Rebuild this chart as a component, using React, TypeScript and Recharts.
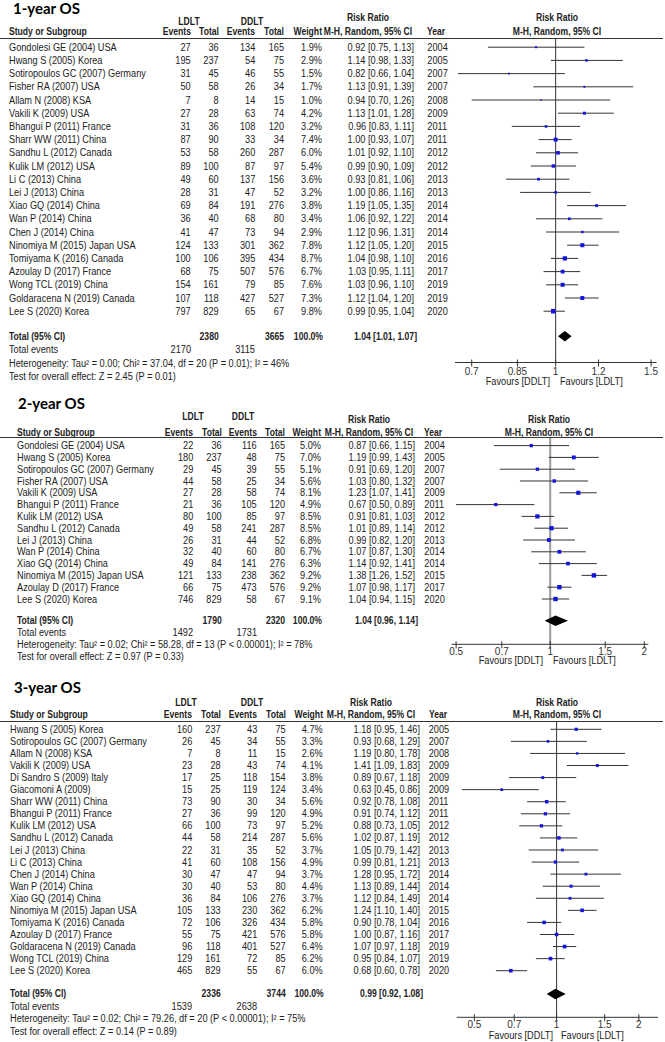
import { ScatterChart, Scatter, XAxis, YAxis, ErrorBar, ReferenceLine } from "recharts";

const FONT = '"Liberation Sans", Arial, sans-serif';

// ---- 1-year OS ----
const study1 = [
  "Gondolesi GE (2004) USA", "Hwang S (2005) Korea", "Sotiropoulos GC (2007) Germany", "Fisher RA (2007) USA",
  "Allam N (2008) KSA", "Vakili K (2009) USA", "Bhangui P (2011) France", "Sharr WW (2011) China",
  "Sandhu L (2012) Canada", "Kulik LM (2012) USA", "Li C (2013) China", "Lei J (2013) China",
  "Xiao GQ (2014) China", "Wan P (2014) China", "Chen J (2014) China", "Ninomiya M (2015) Japan USA",
  "Tomiyama K (2016) Canada", "Azoulay D (2017) France", "Wong TCL (2019) China", "Goldaracena N (2019) Canada",
  "Lee S (2020) Korea",
];
const ldltEv1 = [27, 195, 31, 50, 7, 27, 31, 87, 53, 89, 49, 28, 69, 36, 41, 124, 100, 68, 154, 107, 797];
const ldltN1 = [36, 237, 45, 58, 8, 28, 36, 90, 58, 100, 60, 31, 84, 40, 47, 133, 106, 75, 161, 118, 829];
const ddltEv1 = [134, 54, 46, 26, 14, 63, 108, 33, 260, 87, 137, 47, 191, 68, 73, 301, 395, 507, 79, 427, 65];
const ddltN1 = [165, 75, 55, 34, 15, 74, 120, 34, 287, 97, 156, 52, 276, 80, 94, 362, 434, 576, 85, 527, 67];
const weight1 = [1.9, 2.9, 1.5, 1.7, 1.0, 4.2, 3.2, 7.4, 6.0, 5.4, 3.6, 3.2, 3.8, 3.4, 2.9, 7.8, 8.7, 6.7, 7.6, 7.3, 9.8];
const rr1 = [0.92, 1.14, 0.82, 1.13, 0.94, 1.13, 0.96, 1.0, 1.01, 0.99, 0.93, 1.0, 1.19, 1.06, 1.12, 1.12, 1.04, 1.03, 1.03, 1.12, 0.99];
const lo1 = [0.75, 0.98, 0.66, 0.91, 0.7, 1.01, 0.83, 0.93, 0.92, 0.9, 0.81, 0.86, 1.05, 0.92, 0.96, 1.05, 0.98, 0.95, 0.96, 1.04, 0.95];
const hi1 = [1.13, 1.33, 1.04, 1.39, 1.26, 1.28, 1.11, 1.07, 1.1, 1.09, 1.06, 1.16, 1.35, 1.22, 1.31, 1.2, 1.1, 1.11, 1.1, 1.2, 1.04];
const year1 = [2004, 2005, 2007, 2007, 2008, 2009, 2011, 2011, 2012, 2012, 2013, 2013, 2014, 2014, 2014, 2015, 2016, 2017, 2019, 2019, 2020];
const totals1 = [2380, 3665];
const events1 = [2170, 3115];
const pooled1 = [1.04, 1.01, 1.07];
const het1 = "Heterogeneity: Tau² = 0.00; Chi² = 37.04, df = 20 (P = 0.01); I² = 46%";
const test1 = "Test for overall effect: Z = 2.45 (P = 0.01)";
const ticks1 = [0.7, 0.85, 1, 1.2, 1.5];

// ---- 2-year OS ----
const study2 = [
  "Gondolesi GE (2004) USA", "Hwang S (2005) Korea", "Sotiropoulos GC (2007) Germany", "Fisher RA (2007) USA",
  "Vakili K (2009) USA", "Bhangui P (2011) France", "Kulik LM (2012) USA", "Sandhu L (2012) Canada",
  "Lei J (2013) China", "Wan P (2014) China", "Xiao GQ (2014) China", "Ninomiya M (2015) Japan USA",
  "Azoulay D (2017) France", "Lee S (2020) Korea",
];
const ldltEv2 = [22, 180, 29, 44, 27, 21, 80, 49, 26, 32, 49, 121, 66, 746];
const ldltN2 = [36, 237, 45, 58, 28, 36, 100, 58, 31, 40, 84, 133, 75, 829];
const ddltEv2 = [116, 48, 39, 25, 58, 105, 85, 241, 44, 60, 141, 238, 473, 58];
const ddltN2 = [165, 75, 55, 34, 74, 120, 97, 287, 52, 80, 276, 362, 576, 67];
const weight2 = [5.0, 7.0, 5.1, 5.6, 8.1, 4.9, 8.5, 8.5, 6.8, 6.7, 6.3, 9.2, 9.2, 9.1];
const rr2 = [0.87, 1.19, 0.91, 1.03, 1.23, 0.67, 0.91, 1.01, 0.99, 1.07, 1.14, 1.38, 1.07, 1.04];
const lo2 = [0.66, 0.99, 0.69, 0.8, 1.07, 0.5, 0.81, 0.89, 0.82, 0.87, 0.92, 1.26, 0.98, 0.94];
const hi2 = [1.15, 1.43, 1.2, 1.32, 1.41, 0.89, 1.03, 1.14, 1.2, 1.3, 1.41, 1.52, 1.17, 1.15];
const year2 = [2004, 2005, 2007, 2007, 2009, 2011, 2012, 2012, 2013, 2014, 2014, 2015, 2017, 2020];
const totals2 = [1790, 2320];
const events2 = [1492, 1731];
const pooled2 = [1.04, 0.96, 1.14];
const het2 = "Heterogeneity: Tau² = 0.02; Chi² = 58.28, df = 13 (P < 0.00001); I² = 78%";
const test2 = "Test for overall effect: Z = 0.97 (P = 0.33)";
const ticks2 = [0.5, 0.7, 1, 1.5, 2];

// ---- 3-year OS ----
const study3 = [
  "Hwang S (2005) Korea", "Sotiropoulos GC (2007) Germany", "Allam N (2008) KSA", "Vakili K (2009) USA",
  "Di Sandro S (2009) Italy", "Giacomoni A (2009)", "Sharr WW (2011) China", "Bhangui P (2011) France",
  "Kulik LM (2012) USA", "Sandhu L (2012) Canada", "Lei J (2013) China", "Li C (2013) China",
  "Chen J (2014) China", "Wan P (2014) China", "Xiao GQ (2014) China", "Ninomiya M (2015) Japan USA",
  "Tomiyama K (2016) Canada", "Azoulay D (2017) France", "Goldaracena N (2019) Canada", "Wong TCL (2019) China",
  "Lee S (2020) Korea",
];
const ldltEv3 = [160, 26, 7, 23, 17, 15, 73, 27, 66, 44, 22, 41, 30, 30, 36, 105, 72, 55, 96, 129, 465];
const ldltN3 = [237, 45, 8, 28, 25, 25, 90, 36, 100, 58, 31, 60, 47, 40, 84, 133, 106, 75, 118, 161, 829];
const ddltEv3 = [43, 34, 11, 43, 118, 119, 30, 99, 73, 214, 35, 108, 47, 53, 106, 230, 326, 421, 401, 72, 55];
const ddltN3 = [75, 55, 15, 74, 154, 124, 34, 120, 97, 287, 52, 156, 94, 80, 276, 362, 434, 576, 527, 85, 67];
const weight3 = [4.7, 3.3, 2.6, 4.1, 3.8, 3.4, 5.6, 4.9, 5.2, 5.6, 3.7, 4.9, 3.7, 4.4, 3.7, 6.2, 5.8, 5.8, 6.4, 6.2, 6.0];
const rr3 = [1.18, 0.93, 1.19, 1.41, 0.89, 0.63, 0.92, 0.91, 0.88, 1.02, 1.05, 0.99, 1.28, 1.13, 1.12, 1.24, 0.9, 1.0, 1.07, 0.95, 0.68];
const lo3 = [0.95, 0.68, 0.8, 1.09, 0.67, 0.45, 0.78, 0.74, 0.73, 0.87, 0.79, 0.81, 0.95, 0.89, 0.84, 1.1, 0.78, 0.87, 0.97, 0.84, 0.6];
const hi3 = [1.46, 1.29, 1.78, 1.83, 1.18, 0.86, 1.08, 1.12, 1.05, 1.19, 1.42, 1.21, 1.72, 1.44, 1.49, 1.4, 1.04, 1.16, 1.18, 1.07, 0.78];
const year3 = [2005, 2007, 2008, 2009, 2009, 2009, 2011, 2011, 2012, 2012, 2013, 2013, 2014, 2014, 2014, 2015, 2016, 2017, 2019, 2019, 2020];
const totals3 = [2336, 3744];
const events3 = [1539, 2638];
const pooled3 = [0.99, 0.92, 1.08];
const het3 = "Heterogeneity: Tau² = 0.02; Chi² = 79.26, df = 20 (P < 0.00001); I² = 75%";
const test3 = "Test for overall effect: Z = 0.14 (P = 0.89)";
const ticks3 = [0.5, 0.7, 1, 1.5, 2];

// layout (pixel positions) per panel
const lay1 = {
  titleY: 8, titleX: 13, grpY: 21.7, rrTopY: 17.5, headY: 32.3, lineY: 38.5, row0Y: 46.7, step: 13.2,
  totalY: 335.7, eventsY: 350.3, hetY: 363.7, testY: 377, axisY: 362, tickDy: 9, favY: 381.7, textX: 9,
  cEvL: 190.7, cNL: 218.7, cEvD: 255.3, cND: 284, cW: 322, cRR: 414, rrHeadC: 368, yearX: 427.3,
  ldltC: 189, ddltC: 251.7, plotL: 455, plotR: 656.5, domain: [0.652, 1.535], plotHeadC: 556.5,
  favDEnd: 550, favLStart: 560, refColor: "#333", refW: 1,
};
const lay2 = {
  titleY: 403.3, titleX: 18, grpY: 417.3, rrTopY: 420, headY: 432.7, lineY: 437.7, row0Y: 445.3, step: 11.8,
  totalY: 620.5, eventsY: 633.3, hetY: 645.3, testY: 656.7, axisY: 644, tickDy: 7.2, favY: 661, textX: 17,
  cEvL: 193.3, cNL: 221.7, cEvD: 256.7, cND: 285, cW: 321, cRR: 415, rrHeadC: 369, yearX: 424.3,
  ldltC: 192.7, ddltC: 242.5, plotL: 451.7, plotR: 648.3, domain: [0.484, 2.06], plotHeadC: 549.3,
  favDEnd: 543.3, favLStart: 552.7, refColor: "#9a9a9a", refW: 2,
};
const lay3 = {
  titleY: 687.3, titleX: 14, grpY: 703.3, rrTopY: 703.3, headY: 715.3, lineY: 721, row0Y: 729.3, step: 12.07,
  totalY: 994, eventsY: 1007, hetY: 1019.3, testY: 1031.7, axisY: 1017.3, tickDy: 7.6, favY: 1035.6, textX: 10,
  cEvL: 192.3, cNL: 220.7, cEvD: 257.3, cND: 285.7, cW: 322.7, cRR: 420, rrHeadC: 371, yearX: 428.7,
  ldltC: 186, ddltC: 252.3, plotL: 456.7, plotR: 658, domain: [0.431, 2.35], plotHeadC: 556.7,
  favDEnd: 552.7, favLStart: 560.7, refColor: "#333", refW: 1,
};

const fmt = (v: number) => v.toFixed(2);

function T({ x, y, text, align = "left", bold = false, size = 10, sx, color = "#222", family = FONT }: any) {
  const tx = align === "left" ? "0" : align === "right" ? "-100%" : "-50%";
  const origin = align === "left" ? "0% 50%" : align === "right" ? "100% 50%" : "50% 50%";
  const s = sx ?? (bold ? 0.86 : 0.92);
  return (
    <div
      style={{
        position: "absolute",
        left: x,
        top: y,
        whiteSpace: "nowrap",
        fontSize: size,
        lineHeight: 1,
        fontWeight: bold ? 700 : 400,
        color,
        fontFamily: family,
        transform: `translate(${tx}, -50%) scaleX(${s})`,
        transformOrigin: origin,
      }}
    >
      {text}
    </div>
  );
}

function Panel({ title, d, L, ticks }: any) {
  const base = (L.row0Y - L.lineY) / L.step;
  const rows = d.study.map((s: string, i: number) => ({
    name: s,
    a: d.ldltEv[i],
    b: d.ldltN[i],
    c: d.ddltEv[i],
    e: d.ddltN[i],
    w: d.weight[i],
    rr: d.rr[i],
    lo: d.lo[i],
    hi: d.hi[i],
    year: d.year[i],
    err: [d.rr[i] - d.lo[i], d.hi[i] - d.rr[i]],
    pos: base + i,
  }));
  const totPos = (L.totalY - L.lineY) / L.step;
  const dh = 5.2 / L.step;
  const [est, plo, phi] = d.pooled;
  const diamond = [
    { rr: plo, pos: totPos },
    { rr: est, pos: totPos - dh },
    { rr: phi, pos: totPos },
    { rr: est, pos: totPos + dh },
  ];
  const yTicks = [...rows.map((r: any) => r.pos), totPos];
  const domMax = (L.axisY - L.lineY) / L.step;
  const chartH = L.axisY - L.lineY + 22;

  const cell = (k: string, X: number, y: number, txt: any, anchor: string, bold = false) => (
    <text
      key={k}
      transform={`translate(${X},${y}) scale(${bold ? 0.86 : 0.92},1)`}
      textAnchor={anchor}
      dy="0.35em"
      fontSize={10}
      fontWeight={bold ? 700 : 400}
      fill="#222"
      fontFamily={FONT}
    >
      {txt}
    </text>
  );

  const rowTick = (p: any) => {
    const v = p.payload.value;
    const y = p.y;
    const r = rows.find((q: any) => Math.abs(q.pos - v) < 1e-6);
    if (!r) {
      return (
        <g>
          {cell("t0", L.textX, y, "Total (95% CI)", "start", true)}
          {cell("t1", L.cNL, y, d.totals[0], "end", true)}
          {cell("t2", L.cND, y, d.totals[1], "end", true)}
          {cell("t3", L.cW + 1, y, "100.0%", "end", true)}
          {cell("t4", L.cRR + 3, y, `${fmt(est)} [${fmt(plo)}, ${fmt(phi)}]`, "end", true)}
        </g>
      );
    }
    return (
      <g>
        {cell("n", L.textX, y, r.name, "start")}
        {cell("a", L.cEvL, y, r.a, "end")}
        {cell("b", L.cNL, y, r.b, "end")}
        {cell("c", L.cEvD, y, r.c, "end")}
        {cell("e", L.cND, y, r.e, "end")}
        {cell("w", L.cW, y, r.w.toFixed(1) + "%", "end")}
        {cell("r", L.cRR, y, `${fmt(r.rr)} [${fmt(r.lo)}, ${fmt(r.hi)}]`, "end")}
        {cell("y", L.yearX, y, r.year, "start")}
      </g>
    );
  };

  const axisTick = (p: any) => (
    <g>
      <line x1={p.x} x2={p.x} y1={p.y - 3} y2={p.y + 4} stroke="#333" strokeWidth={1} />
      <text
        x={p.x}
        y={p.y + L.tickDy}
        dy="0.35em"
        textAnchor="middle"
        fontSize={10}
        fill="#333"
        fontFamily={FONT}
      >
        {String(p.payload.value)}
      </text>
    </g>
  );

  return (
    <>
      <T x={L.titleX} y={L.titleY} text={title} bold size={15} sx={1} color="#000" family="Lato, 'Open Sans', sans-serif" />
      <T x={L.ldltC} y={L.grpY} text="LDLT" align="center" bold />
      <T x={L.ddltC} y={L.grpY} text="DDLT" align="center" bold />
      <T x={L.rrHeadC} y={L.rrTopY} text="Risk Ratio" align="center" bold />
      <T x={L.plotHeadC} y={L.rrTopY} text="Risk Ratio" align="center" bold />
      <T x={L.textX} y={L.headY} text="Study or Subgroup" bold />
      <T x={L.cEvL} y={L.headY} text="Events" align="right" bold />
      <T x={L.cNL} y={L.headY} text="Total" align="right" bold />
      <T x={L.cEvD} y={L.headY} text="Events" align="right" bold />
      <T x={L.cND} y={L.headY} text="Total" align="right" bold />
      <T x={L.cW} y={L.headY} text="Weight" align="right" bold />
      <T x={L.rrHeadC} y={L.headY} text="M-H, Random, 95% CI" align="center" bold />
      <T x={L.yearX} y={L.headY} text="Year" bold />
      <T x={L.plotHeadC} y={L.headY} text="M-H, Random, 95% CI" align="center" bold />
      <div style={{ position: "absolute", left: 0, top: L.lineY - 0.5, width: 663, height: 1, background: "#333" }} />

      <div style={{ position: "absolute", left: 0, top: L.lineY }}>
        <ScatterChart width={665} height={chartH} margin={{ top: 0, right: 665 - L.plotR, bottom: 0, left: 0 }}>
          <XAxis
            type="number"
            dataKey="rr"
            scale="log"
            domain={L.domain}
            allowDataOverflow
            ticks={ticks}
            interval={0}
            height={22}
            tickSize={0}
            tickMargin={0}
            tickLine={false}
            stroke="#333"
            tick={axisTick}
          />
          <YAxis
            type="number"
            dataKey="pos"
            domain={[0, domMax]}
            allowDataOverflow
            reversed
            ticks={yTicks}
            interval={0}
            width={L.plotL}
            axisLine={false}
            tickLine={false}
            tick={rowTick}
          />
          <ReferenceLine x={1} stroke={L.refColor} strokeWidth={L.refW} />
          <Scatter
            data={rows}
            isAnimationActive={false}
            shape={(p: any) => {
              const s = 1.45 * Math.sqrt(p.payload.w);
              return <rect x={p.cx - s / 2} y={p.cy - s / 2} width={s} height={s} fill="#1414e0" />;
            }}
          >
            <ErrorBar dataKey="err" direction="x" width={0} stroke="#333" strokeWidth={1} isAnimationActive={false} />
          </Scatter>
          <Scatter
            data={diamond}
            isAnimationActive={false}
            shape={() => <g />}
            line={(lp: any) => (
              <polygon points={lp.points.map((q: any) => `${q.x},${q.y}`).join(" ")} fill="#000" stroke="none" />
            )}
          />
        </ScatterChart>
      </div>

      <T x={L.textX} y={L.eventsY} text="Total events" />
      <T x={L.cEvL} y={L.eventsY} text={d.events[0]} align="right" />
      <T x={L.cEvD} y={L.eventsY} text={d.events[1]} align="right" />
      <T x={L.textX} y={L.hetY} text={d.het} />
      <T x={L.textX} y={L.testY} text={d.test} />
      <T x={L.favDEnd} y={L.favY} text="Favours [DDLT]" align="right" />
      <T x={L.favLStart} y={L.favY} text="Favours [LDLT]" />
    </>
  );
}

const d1 = { study: study1, ldltEv: ldltEv1, ldltN: ldltN1, ddltEv: ddltEv1, ddltN: ddltN1, weight: weight1, rr: rr1, lo: lo1, hi: hi1, year: year1, totals: totals1, events: events1, pooled: pooled1, het: het1, test: test1 };
const d2 = { study: study2, ldltEv: ldltEv2, ldltN: ldltN2, ddltEv: ddltEv2, ddltN: ddltN2, weight: weight2, rr: rr2, lo: lo2, hi: hi2, year: year2, totals: totals2, events: events2, pooled: pooled2, het: het2, test: test2 };
const d3 = { study: study3, ldltEv: ldltEv3, ldltN: ldltN3, ddltEv: ddltEv3, ddltN: ddltN3, weight: weight3, rr: rr3, lo: lo3, hi: hi3, year: year3, totals: totals3, events: events3, pooled: pooled3, het: het3, test: test3 };

export default function App() {
  return (
    <div
      style={{
        position: "absolute",
        left: 0,
        top: 0,
        width: 665,
        height: 1042,
        background: "#fff",
        overflow: "hidden",
        fontFamily: FONT,
      }}
    >
      <Panel title="1-year OS" d={d1} L={lay1} ticks={ticks1} />
      <Panel title="2-year OS" d={d2} L={lay2} ticks={ticks2} />
      <Panel title="3-year OS" d={d3} L={lay3} ticks={ticks3} />
    </div>
  );
}
